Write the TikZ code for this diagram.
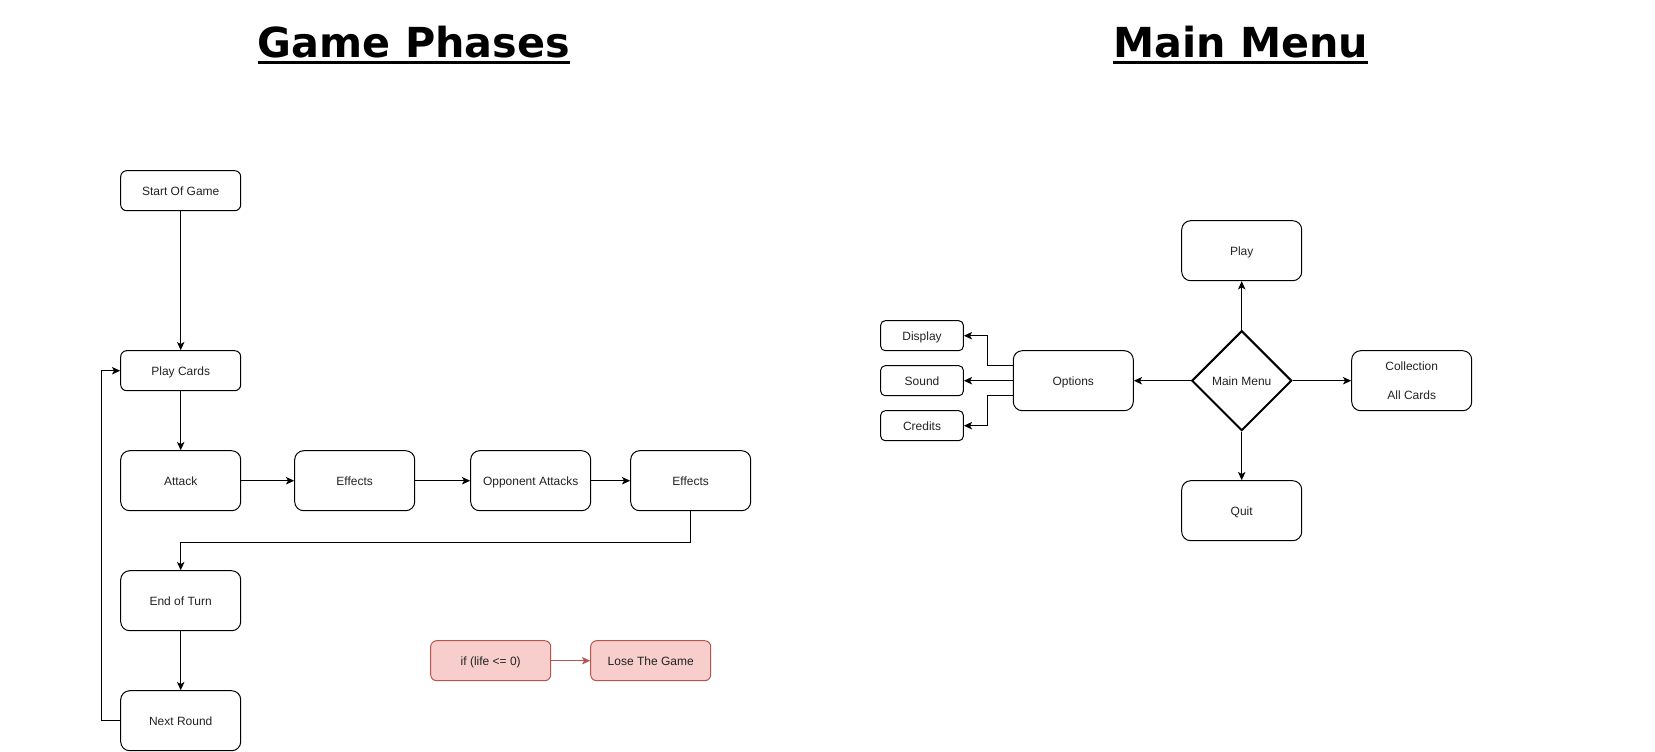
\documentclass[tikz,border=0pt]{standalone}
\usepackage{fontspec}
\setmainfont{Liberation Sans}
\newfontfamily\headfont{DejaVu Sans}
\usetikzlibrary{arrows.meta}
\usetikzlibrary{shapes.geometric}

\definecolor{redfill}{HTML}{F8CECC}
\definecolor{redline}{HTML}{B85450}
\definecolor{labeltext}{HTML}{222222}

\begin{document}
\begin{tikzpicture}[x=0.75pt,y=-0.75pt,
    box/.style={draw, line width=0.75pt, rounded corners=4.5pt, minimum width=90pt,
        minimum height=30pt, inner sep=0pt, text=labeltext, text height=6.5pt, text depth=0pt,
        font=\fontsize{9}{10.8}\selectfont},
    tallbox/.style={box, minimum height=45pt, rounded corners=6.75pt},
    smallbox/.style={box, minimum width=62pt, minimum height=22.5pt, rounded corners=3.4pt},
    redbox/.style={box, fill=redfill, draw=redline},
    decision/.style={draw, diamond, aspect=1, minimum size=75pt, inner sep=0pt,
        line width=1.5pt, text=labeltext, text height=6.5pt, text depth=0pt,
        font=\fontsize{9}{10.8}\selectfont},
    arr/.style={-{Stealth[length=6.2pt,width=5.6pt,inset=1.6pt]}, line width=0.75pt},
    heading/.style={font=\headfont\bfseries\fontsize{31}{31}\selectfont, inner sep=0pt, anchor=base}
]
    \useasboundingbox (0,0) rectangle (1655,751);

    % Titles
    \node[heading] (gpTitle) at (414,57) {Game Phases};
    \node[heading] (mmTitle) at (1240.7,57) {Main Menu};
    \draw[line width=2.6pt] ([yshift=-4pt]gpTitle.base west) -- ([yshift=-4pt]gpTitle.base east);
    \draw[line width=2.6pt] ([yshift=-4pt]mmTitle.base west) -- ([yshift=-4pt]mmTitle.base east);

    % Game phases
    \node[box] (start) at (180.7,190.7) {Start Of Game};
    \node[box] (playcards) at (180.7,370.7) {Play Cards};
    \node[tallbox] (attack) at (180.7,480.7) {Attack};
    \node[tallbox] (effectsA) at (354.7,480.7) {Effects};
    \node[tallbox] (oppattack) at (530.7,480.7) {Opponent Attacks};
    \node[tallbox] (effectsB) at (690.7,480.7) {Effects};
    \node[tallbox] (endturn) at (180.7,600.7) {End of Turn};
    \node[tallbox] (nextround) at (180.7,720.7) {Next Round};

    \draw[arr] (start) -- (playcards);
    \draw[arr] (playcards) -- (attack);
    \draw[arr] (attack) -- (effectsA);
    \draw[arr] (effectsA) -- (oppattack);
    \draw[arr] (oppattack) -- (effectsB);
    \draw[arr] (effectsB.south) -- ++(0,31) -| (endturn.north);
    \draw[arr] (endturn) -- (nextround);
    \draw[arr] (nextround.west) -- ++(-19,0) |- (playcards.west);

    % Losing
    \node[redbox] (lifecheck) at (490.7,660.7) {if (life <= 0)};
    \node[redbox] (losegame) at (650.7,660.7) {Lose The Game};
    \draw[arr, draw=redline] (lifecheck) -- (losegame);

    % Main menu
    \node[decision] (mainmenu) at (1241.7,380.7) {Main Menu};
    \node[tallbox] (play) at (1241.7,250.7) {Play};
    \node[tallbox] (quit) at (1241.7,510.7) {Quit};
    \node[tallbox] (options) at (1073.3,380.7) {Options};
    \node[tallbox, align=center, text height=, text depth=] (collection) at (1411.7,380.7) {Collection\\[11pt]All Cards};
    \node[smallbox] (display) at (922,335.7) {Display};
    \node[smallbox] (sound) at (922,380.7) {Sound};
    \node[smallbox] (credits) at (922,425.7) {Credits};

    \draw[arr] (mainmenu) -- (play);
    \draw[arr] (mainmenu) -- (quit);
    \draw[arr] (mainmenu) -- (options);
    \draw[arr] (mainmenu) -- (collection);
    \draw[arr] ([yshift=11.25pt]options.west) -- ++(-25,0) |- (display.east);
    \draw[arr] (options.west) -- (sound.east);
    \draw[arr] ([yshift=-11.25pt]options.west) -- ++(-25,0) |- (credits.east);
\end{tikzpicture}
\end{document}
